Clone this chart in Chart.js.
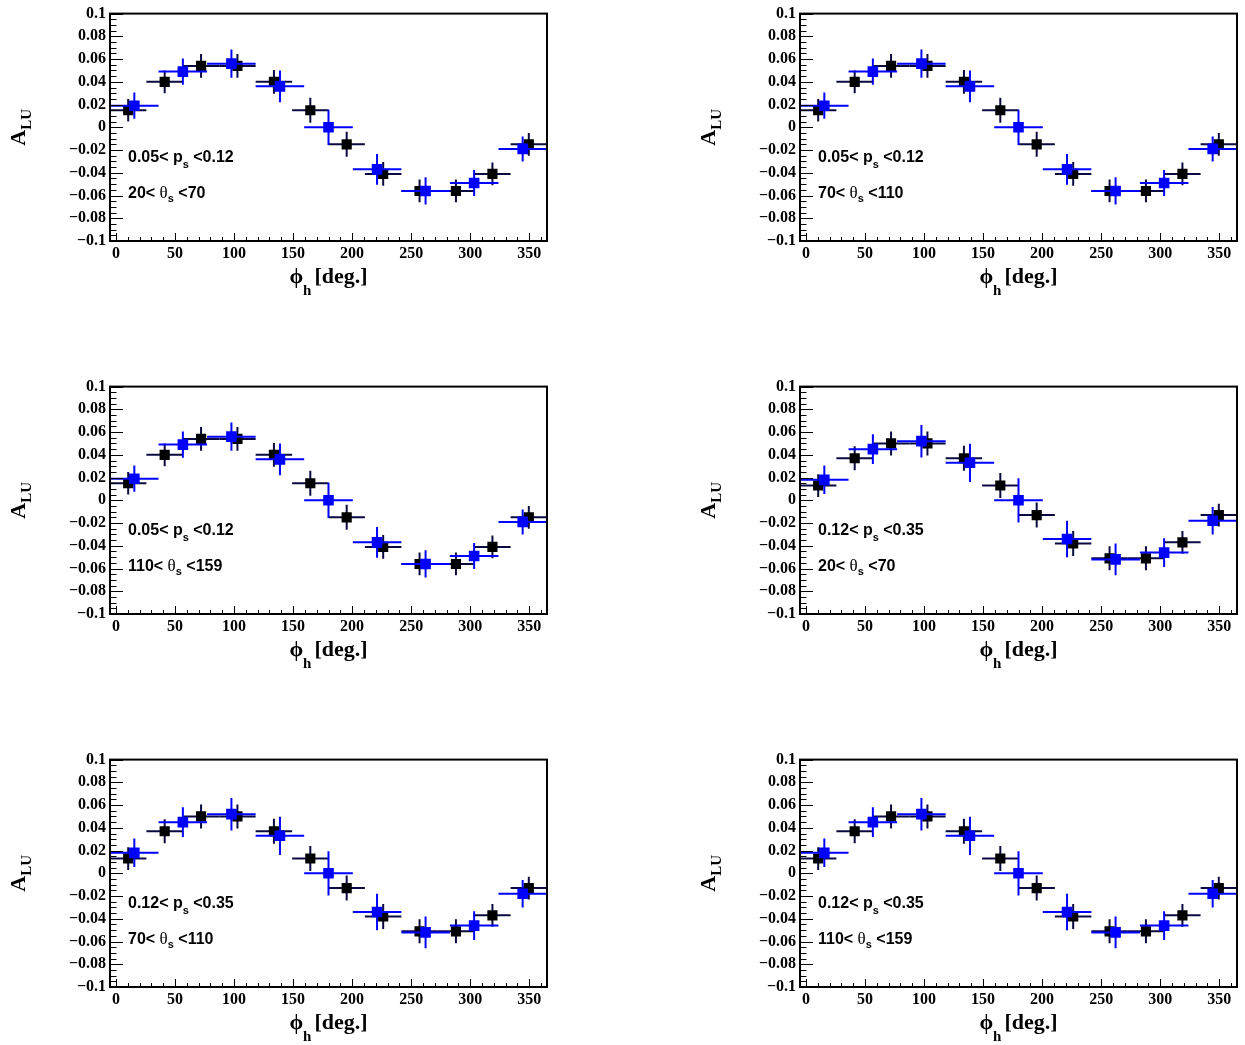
<!DOCTYPE html>
<html><head><meta charset="utf-8">
<script src="https://cdn.jsdelivr.net/npm/chart.js@4/dist/chart.umd.min.js"></script>
<style>
html,body{margin:0;padding:0;background:#fff;width:1245px;height:1045px;overflow:hidden;}
.p{position:absolute;width:560px;height:300px;}
</style></head><body>
<div class="p" style="left:0px;top:0px"><canvas id="c0" width="560" height="300"></canvas></div>
<div class="p" style="left:690px;top:0px"><canvas id="c1" width="560" height="300"></canvas></div>
<div class="p" style="left:0px;top:373px"><canvas id="c2" width="560" height="300"></canvas></div>
<div class="p" style="left:690px;top:373px"><canvas id="c3" width="560" height="300"></canvas></div>
<div class="p" style="left:0px;top:746px"><canvas id="c4" width="560" height="300"></canvas></div>
<div class="p" style="left:690px;top:746px"><canvas id="c5" width="560" height="300"></canvas></div>
<script>
// ---------- tick labels ----------
const phiTicks = [0, 50, 100, 150, 200, 250, 300, 350];
const aluTicks = [-0.1, -0.08, -0.06, -0.04, -0.02, 0, 0.02, 0.04, 0.06, 0.08, 0.1];

// ---------- black points: 12 phi bins ----------
const blackPhi   = [10.4, 41.3, 72.1, 102.9, 133.8, 164.6, 195.4, 226.3, 257.1, 287.9, 318.8, 349.6];
const blackPhiLo = [-5, 25.8, 56.7, 87.5, 118.3, 149.2, 180, 210.8, 241.7, 272.5, 303.3, 334.2];
const blackPhiHi = [25.8, 56.7, 87.5, 118.3, 149.2, 180, 210.8, 241.7, 272.5, 303.3, 334.2, 365];

// ---------- blue points: 9 phi bins ----------
const bluePhi   = [15.6, 56.7, 97.8, 138.9, 180, 221.1, 262.2, 303.3, 344.4];
const bluePhiLo = [-5, 36.1, 77.2, 118.3, 159.4, 200.6, 241.7, 282.8, 323.9];
const bluePhiHi = [36.1, 77.2, 118.3, 159.4, 200.6, 241.7, 282.8, 323.9, 365];

// ---------- A_LU values, 0.05 < p_s < 0.12 ----------
const blackALowP    = [0.015, 0.040, 0.054, 0.054, 0.040, 0.015, -0.015, -0.041, -0.056, -0.056, -0.041, -0.015];
const blackErrLowP  = [0.010, 0.010, 0.0105, 0.0105, 0.0105, 0.011, 0.011, 0.0105, 0.010, 0.010, 0.010, 0.010];
const blueALowP     = [0.019, 0.049, 0.056, 0.036, 0.000, -0.037, -0.056, -0.049, -0.019];
const blueErrLowP   = [0.0115, 0.0115, 0.0125, 0.014, 0.0155, 0.0135, 0.012, 0.0115, 0.011];

// ---------- A_LU values, 0.12 < p_s < 0.35 ----------
const blackAHighP   = [0.013, 0.037, 0.050, 0.050, 0.037, 0.013, -0.013, -0.038, -0.051, -0.051, -0.037, -0.013];
const blackErrHighP = [0.010, 0.0105, 0.0105, 0.0105, 0.011, 0.011, 0.011, 0.011, 0.0105, 0.0105, 0.010, 0.010];
const blueAHighP    = [0.018, 0.045, 0.052, 0.033, 0.000, -0.034, -0.052, -0.046, -0.018];
const blueErrHighP  = [0.0125, 0.013, 0.0143, 0.0168, 0.0195, 0.016, 0.014, 0.0127, 0.012];

// ---------- panel labels ----------
const psRanges    = [["0.05", "0.12"], ["0.12", "0.35"]];
const thetaRanges = [["20", "70"], ["70", "110"], ["110", "159"]];
// panel -> [p_s bin index, theta bin index]
const panelBins = [[0, 0], [0, 1], [0, 2], [1, 0], [1, 1], [1, 2]];

const valueSets = [
  { bA: blackALowP,  bE: blackErrLowP,  uA: blueALowP,  uE: blueErrLowP },
  { bA: blackAHighP, bE: blackErrHighP, uA: blueAHighP, uE: blueErrHighP }
];

const SERIF = "'Liberation Serif', 'DejaVu Serif', serif";
const SANS  = "'Liberation Sans', Arial, sans-serif";
const BLUE  = '#0000ff';
const DARK  = '#0a0a40';

function fmt(v) {
  const r = Math.round(v * 1000) / 1000;
  if (r === 0) return '0';
  return (r < 0 ? '\u2212' : '') + String(Math.abs(r));
}

function drawParts(ctx, x, y, parts) {
  for (const p of parts) {
    ctx.font = p.font;
    ctx.fillText(p.t, x, y + (p.dy || 0));
    x += ctx.measureText(p.t).width + (p.gap || 0);
  }
  return x;
}
function partsWidth(ctx, parts) {
  let w = 0;
  for (const p of parts) { ctx.font = p.font; w += ctx.measureText(p.t).width + (p.gap || 0); }
  return w;
}

const rootPlugin = {
  id: 'rootStyle',
  beforeDatasetDraw(chart, args) {
    const ds = chart.data.datasets[args.index];
    const ctx = chart.ctx, xs = chart.scales.x, ys = chart.scales.y, a = chart.chartArea;
    ctx.save();
    ctx.beginPath();
    ctx.rect(a.left, a.top, a.right - a.left, a.bottom - a.top);
    ctx.clip();
    ctx.strokeStyle = ds.errColor;
    ctx.lineWidth = 2;
    ds.data.forEach((pt, i) => {
      const px = xs.getPixelForValue(pt.x), py = ys.getPixelForValue(pt.y);
      ctx.beginPath();
      ctx.moveTo(xs.getPixelForValue(ds.xLo[i]), py);
      ctx.lineTo(xs.getPixelForValue(ds.xHi[i]), py);
      ctx.moveTo(px, ys.getPixelForValue(pt.y - ds.yErr[i]));
      ctx.lineTo(px, ys.getPixelForValue(pt.y + ds.yErr[i]));
      ctx.stroke();
    });
    ctx.restore();
  },
  afterDraw(chart) {
    const ctx = chart.ctx, xs = chart.scales.x, ys = chart.scales.y, a = chart.chartArea;
    const o = chart.options.plugins.rootStyle;
    ctx.save();
    // ticks
    ctx.strokeStyle = '#000';
    ctx.lineWidth = 1;
    ctx.beginPath();
    for (let d = 0; d <= 360; d += 10) {
      const x = Math.round(xs.getPixelForValue(d)) + 0.5;
      const len = (d % 50 === 0) ? 8 : 4;
      ctx.moveTo(x, a.bottom); ctx.lineTo(x, a.bottom - len);
    }
    for (let k = -20; k <= 20; k++) {
      const v = k * 0.005;
      const y = Math.round(ys.getPixelForValue(v)) + 0.5;
      const len = (k % 4 === 0) ? 13 : 6.5;
      ctx.moveTo(a.left, y); ctx.lineTo(a.left + len, y);
    }
    ctx.stroke();
    // frame
    ctx.lineWidth = 2;
    ctx.strokeRect(a.left, a.top, a.right - a.left, a.bottom - a.top);
    // y title: A_LU
    ctx.fillStyle = '#000';
    ctx.textBaseline = 'alphabetic';
    ctx.textAlign = 'left';
    const yParts = [
      { t: 'A', font: 'bold 22px ' + SERIF },
      { t: 'LU', font: 'bold 15px ' + SERIF, dy: 6 }
    ];
    ctx.save();
    ctx.translate(25, (a.top + a.bottom) / 2);
    ctx.rotate(-Math.PI / 2);
    drawParts(ctx, -partsWidth(ctx, yParts) / 2, 0, yParts);
    ctx.restore();
    // x title: phi_h [deg.]
    const xParts = [
      { t: '\u03D5', font: 'bold 22px ' + SERIF },
      { t: 'h', font: 'bold 15px ' + SERIF, dy: 12, gap: 3 },
      { t: '[deg.]', font: 'bold 22px ' + SERIF }
    ];
    const cx = (a.left + a.right) / 2;
    drawParts(ctx, cx - partsWidth(ctx, xParts) / 2, a.bottom + 42, xParts);
    // annotations
    const ps = psRanges[o.ps], th = thetaRanges[o.th];
    const big = 'bold 16px ' + SANS, small = 'bold 11px ' + SANS;
    drawParts(ctx, a.left + 18, a.top + 148, [
      { t: ps[0] + '< p', font: big },
      { t: 's', font: small, dy: 6 },
      { t: ' <' + ps[1], font: big }
    ]);
    drawParts(ctx, a.left + 18, a.top + 184, [
      { t: th[0] + '< ', font: big },
      { t: '\u03B8', font: '17px ' + SERIF },
      { t: 's', font: small, dy: 4 },
      { t: ' <' + th[1], font: big }
    ]);
    ctx.restore();
  }
};

panelBins.forEach((pb, idx) => {
  const vs = valueSets[pb[0]];
  const tickFont = { family: SERIF, weight: 'bold', size: 16 };
  new Chart(document.getElementById('c' + idx), {
    type: 'scatter',
    data: {
      datasets: [
        {
          label: 'blue',
          data: bluePhi.map((x, i) => ({ x: x, y: vs.uA[i] })),
          xLo: bluePhiLo, xHi: bluePhiHi, yErr: vs.uE, errColor: BLUE,
          pointStyle: 'rect', pointRadius: 7.5, pointBackgroundColor: BLUE,
          pointBorderWidth: 0, showLine: false
        },
        {
          label: 'black',
          data: blackPhi.map((x, i) => ({ x: x, y: vs.bA[i] })),
          xLo: blackPhiLo, xHi: blackPhiHi, yErr: vs.bE, errColor: DARK,
          pointStyle: 'rect', pointRadius: 7.2, pointBackgroundColor: '#000',
          pointBorderWidth: 0, showLine: false
        }
      ]
    },
    options: {
      responsive: false,
      animation: false,
      events: [],
      layout: { padding: { top: 10, right: 13, left: 0, bottom: 0 } },
      plugins: { legend: { display: false }, tooltip: { enabled: false },
                 rootStyle: { ps: pb[0], th: pb[1] } },
      scales: {
        x: {
          type: 'linear', min: -5, max: 365,
          afterBuildTicks: s => { s.ticks = phiTicks.map(v => ({ value: v })); },
          afterFit: s => { s.height = 59; },
          grid: { display: false, drawTicks: false },
          border: { display: false },
          ticks: { font: tickFont, color: '#000', padding: 3, maxRotation: 0, autoSkip: false,
                   callback: v => fmt(v) }
        },
        y: {
          type: 'linear', min: -0.1, max: 0.1,
          afterBuildTicks: s => { s.ticks = aluTicks.map(v => ({ value: v })); },
          afterFit: s => { s.width = 110; },
          grid: { display: false, drawTicks: false },
          border: { display: false },
          ticks: { font: tickFont, color: '#000', padding: 4, autoSkip: false,
                   callback: v => fmt(v) }
        }
      }
    },
    plugins: [rootPlugin]
  });
});
</script>
</body></html>
